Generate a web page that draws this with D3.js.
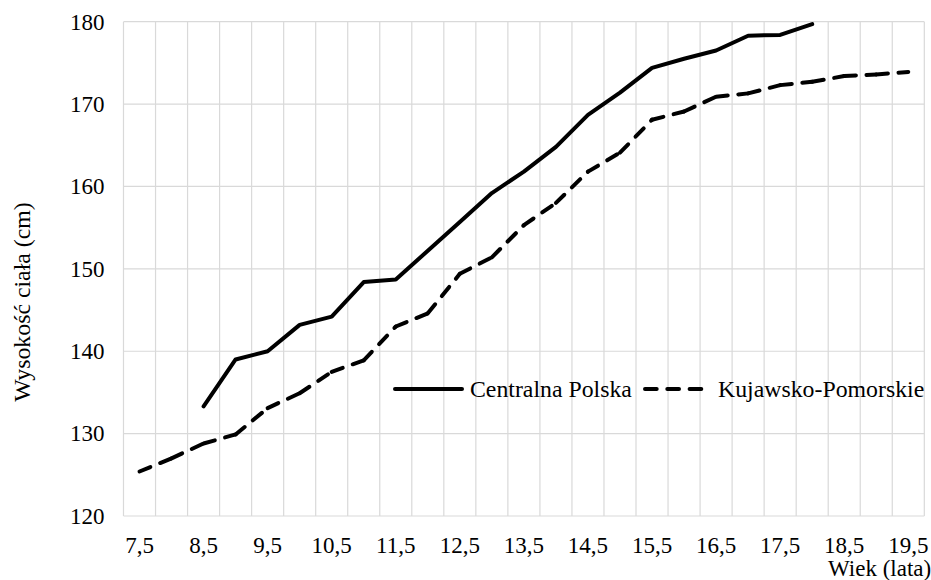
<!DOCTYPE html>
<html>
<head>
<meta charset="utf-8">
<script src="https://cdn.jsdelivr.net/npm/d3@7"></script>
<style>
  body { margin: 0; background: #fff; }
</style>
</head>
<body>
<div id="chart"></div>
<script>
// Width and height of the chart
var width = 931;
var height = 580;
var serif = "'Liberation Serif', 'Times New Roman', serif";

// ages (categories), 7.5 .. 19.5 every half year
var ages = [7.5, 8, 8.5, 9, 9.5, 10, 10.5, 11, 11.5, 12, 12.5, 13, 13.5,
  14, 14.5, 15, 15.5, 16, 16.5, 17, 17.5, 18, 18.5, 19, 19.5];

// series values (cm), null where there is no measurement
var centralnaPolska = [null, null, 133.3, 139.0, 140.0, 143.2, 144.2, 148.4, 148.7,
  152.2, 155.7, 159.2, 161.8, 164.8, 168.7, 171.4, 174.4, 175.5, 176.5, 178.3,
  178.4, 179.7, null, null, null];
var kujawskoPomorskie = [125.4, 127.0, 128.8, 129.9, 133.1, 134.9, 137.5, 138.9, 143.0,
  144.6, 149.4, 151.4, 155.3, 158.0, 161.8, 164.1, 168.1, 169.1, 170.9, 171.3,
  172.3, 172.7, 173.4, 173.6, 173.9];

var yTicks = [120, 130, 140, 150, 160, 170, 180];
var xLabels = ["7,5", "8,5", "9,5", "10,5", "11,5", "12,5", "13,5", "14,5", "15,5",
  "16,5", "17,5", "18,5", "19,5"];

var seriesNames = ["Centralna Polska", "Kujawsko-Pomorskie"];

// plot area
var margin = { top: 21.7, right: 6.7, bottom: 64, left: 123.5 };
var plotW = width - margin.left - margin.right;
var plotH = height - margin.top - margin.bottom;

var svg = d3.select("#chart")
  .append("svg")
  .attr("width", width)
  .attr("height", height);

var g = svg.append("g")
  .attr("transform", "translate(" + margin.left + "," + margin.top + ")");

// category axis (Excel style, labels between tick marks)
var x = d3.scaleBand()
  .domain(ages)
  .range([0, plotW])
  .padding(0);

var y = d3.scaleLinear()
  .domain([120, 180])
  .range([plotH, 0]);

var grid = "#d9d9d9";

// vertical gridlines at the band edges
var edges = ages.map(function(a) { return x(a); }).concat([plotW]);
g.selectAll(".vgrid")
  .data(edges)
  .enter()
  .append("line")
  .attr("x1", function(d) { return d; })
  .attr("x2", function(d) { return d; })
  .attr("y1", 0)
  .attr("y2", plotH)
  .attr("stroke", grid)
  .attr("stroke-width", 1.2);

// horizontal gridlines
g.selectAll(".hgrid")
  .data(yTicks)
  .enter()
  .append("line")
  .attr("x1", 0)
  .attr("x2", plotW)
  .attr("y1", function(d) { return y(d); })
  .attr("y2", function(d) { return y(d); })
  .attr("stroke", grid)
  .attr("stroke-width", 1.2);

// y axis labels
var yAxis = d3.axisLeft(y)
  .tickValues(yTicks)
  .tickSize(0)
  .tickPadding(19);
g.append("g")
  .call(yAxis)
  .call(function(s) { s.select(".domain").remove(); })
  .selectAll("text")
  .style("font-size", "23px")
  .style("font-family", serif)
  .attr("fill", "#000");

// x axis labels, every other category
var xAxis = d3.axisBottom(x)
  .tickValues(ages.filter(function(d, i) { return i % 2 === 0; }))
  .tickFormat(function(d, i) { return xLabels[i]; })
  .tickSize(0)
  .tickPadding(21);
g.append("g")
  .attr("transform", "translate(0," + plotH + ")")
  .call(xAxis)
  .call(function(s) { s.select(".domain").remove(); })
  .selectAll("text")
  .style("font-size", "23px")
  .style("font-family", serif)
  .attr("fill", "#000");

// lines
var line = d3.line()
  .defined(function(d) { return d.v !== null; })
  .x(function(d) { return x(d.a) + x.bandwidth() / 2; })
  .y(function(d) { return y(d.v); });

function pairs(vals) {
  return ages.map(function(a, i) { return { a: a, v: vals[i] }; });
}

var dash = "11.7,10.6";

// dashed series: the dash pattern restarts on every segment (as Excel draws it)
var kp = pairs(kujawskoPomorskie);
var segs = d3.pairs(kp).filter(function(p) { return p[0].v !== null && p[1].v !== null; });
g.selectAll(".kp-seg")
  .data(segs)
  .enter()
  .append("path")
  .attr("class", "kp-seg")
  .attr("d", line)
  .attr("fill", "none")
  .attr("stroke", "#000")
  .attr("stroke-width", 4)
  .attr("stroke-linecap", "round")
  .attr("stroke-dasharray", dash);

g.append("path")
  .datum(pairs(centralnaPolska))
  .attr("d", line)
  .attr("fill", "none")
  .attr("stroke", "#000")
  .attr("stroke-width", 4)
  .attr("stroke-linecap", "round")
  .attr("stroke-linejoin", "round");

// legend (inside the plot area)
var legend = svg.append("g").attr("transform", "translate(0,389)");

legend.append("line")
  .attr("x1", 395).attr("x2", 462).attr("y1", 0).attr("y2", 0)
  .attr("stroke", "#000").attr("stroke-width", 4).attr("stroke-linecap", "round");
legend.append("text")
  .attr("x", 470).attr("y", 0).attr("dy", "0.35em")
  .style("font-size", "23.8px")
  .style("font-family", serif)
  .text(seriesNames[0]);

legend.append("line")
  .attr("x1", 645).attr("x2", 702).attr("y1", 0).attr("y2", 0)
  .attr("stroke", "#000").attr("stroke-width", 4).attr("stroke-linecap", "round")
  .attr("stroke-dasharray", dash);
legend.append("text")
  .attr("x", 718).attr("y", 0).attr("dy", "0.35em")
  .style("font-size", "23.8px")
  .style("font-family", serif)
  .text(seriesNames[1]);

// axis titles
svg.append("text")
  .attr("x", 828)
  .attr("y", 576)
  .style("font-size", "23px")
  .style("font-family", serif)
  .text("Wiek (lata)");

svg.append("text")
  .attr("transform", "translate(30,302) rotate(-90)")
  .attr("text-anchor", "middle")
  .style("font-size", "23.8px")
  .style("font-family", serif)
  .text("Wysokość ciała (cm)");
</script>
</body>
</html>
